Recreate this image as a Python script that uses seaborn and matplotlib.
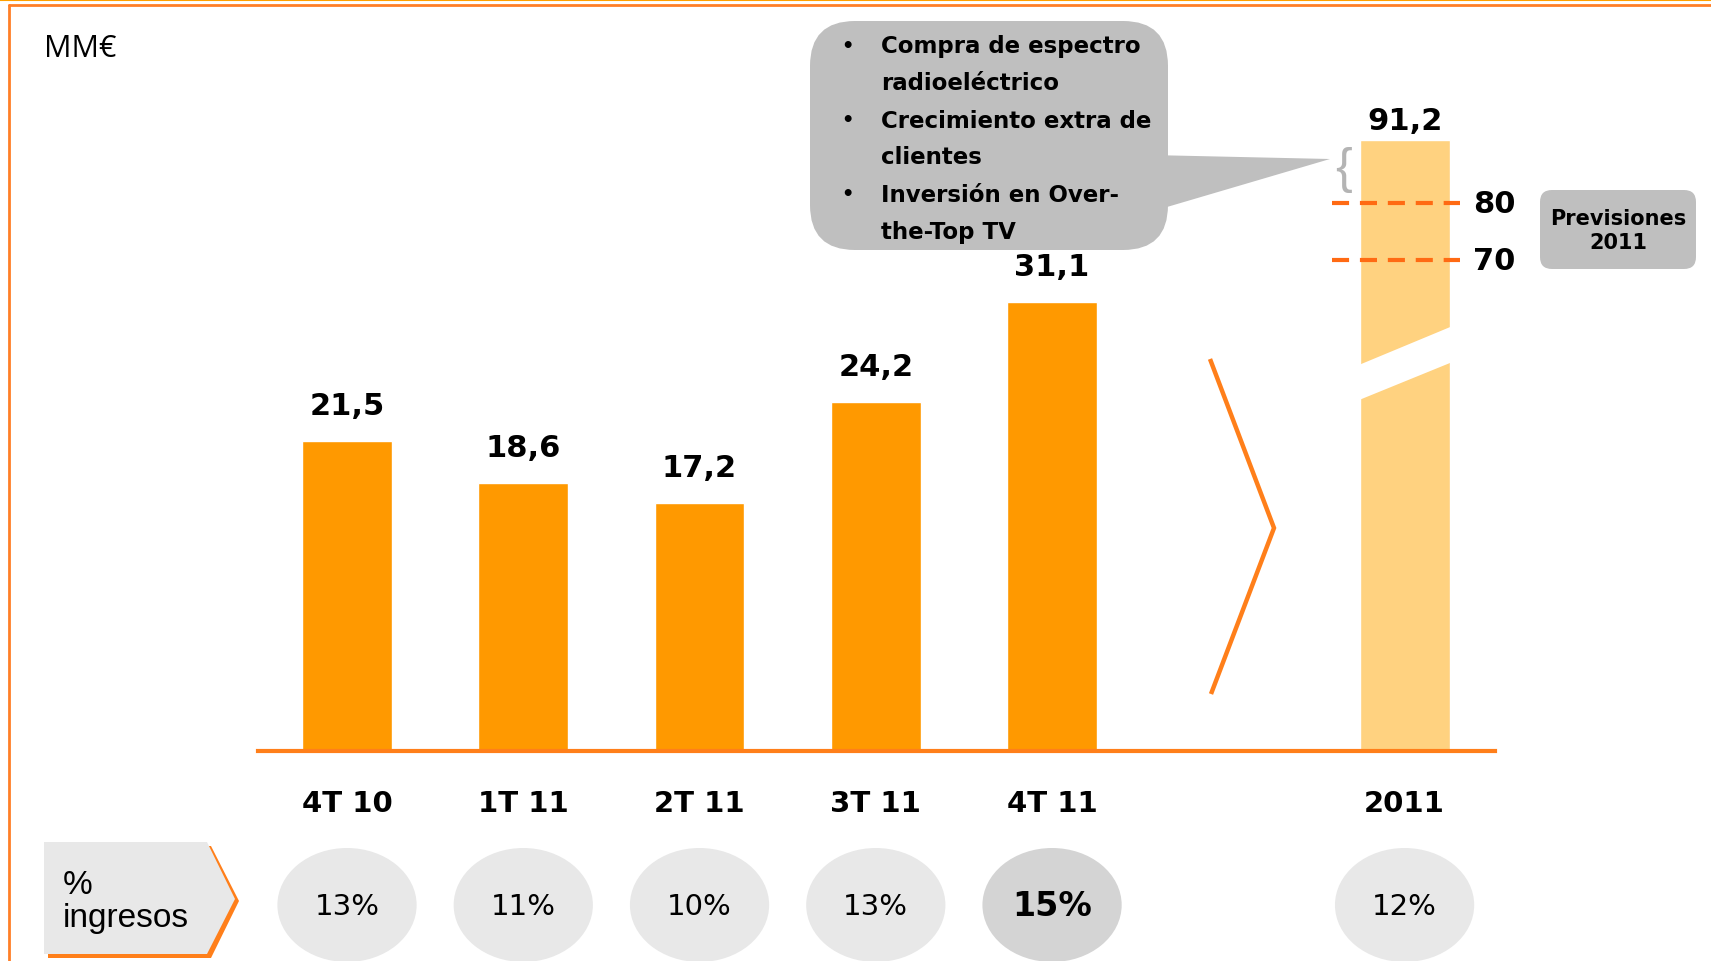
import numpy as np
import pandas as pd
import seaborn as sns
import matplotlib.pyplot as plt
from matplotlib.patches import Ellipse, Polygon, FancyBboxPatch
from matplotlib.transforms import blended_transform_factory

# data
quarters = ['4T 10', '1T 11', '2T 11', '3T 11', '4T 11']
capex = [21.5, 18.6, 17.2, 24.2, 31.1]
year_label = '2011'
year_capex = 91.2
guidance = [80, 70]
pct_labels = quarters + [year_label]
pct_ingresos = [13, 11, 10, 13, 15, 12]
highlight = '4T 11'
callout_lines = ['Compra de espectro', 'radioeléctrico', 'Crecimiento extra de',
                 'clientes', 'Inversión en Over-', 'the-Top TV']
bullet_rows = [0, 2, 4]

order = quarters + [' ', year_label]
df_q = pd.DataFrame({'periodo': quarters, 'capex': capex})
df_y = pd.DataFrame({'periodo': [year_label], 'capex': [year_capex]})


def fmt(v):
    return f'{v:.1f}'.replace('.', ',')


# piecewise scale for the broken 2011 bar
def fwd(v):
    v = np.asarray(v, dtype=float)
    return np.where(v <= 50, v * 7.53, 376.5 + (v - 50) * 5.7)


def inv(f):
    f = np.asarray(f, dtype=float)
    return np.where(f <= 376.5, f / 7.53, 50 + (f - 376.5) / 5.7)


W, H = 1711, 962
sns.set_style('white')
plt.rcParams['font.family'] = ['DejaVu Sans']
plt.rcParams['text.color'] = 'black'
plt.rcParams['xtick.color'] = 'black'

fig = plt.figure(figsize=(W / 100, H / 100), dpi=100)

bg = fig.add_axes([0, 0, 1, 1])
bg.set_xlim(0, W)
bg.set_ylim(H, 0)
bg.axis('off')

ax = fig.add_axes([258 / W, 1 - 752 / H, (1495 - 258) / W, (752 - 100) / H])
ax2 = ax.twinx()
for a in (ax, ax2):
    a.patch.set_visible(False)

sns.barplot(data=df_q, x='periodo', y='capex', order=order, color='#FF9900',
            saturation=1, width=0.51, ax=ax)
sns.barplot(data=df_y, x='periodo', y='capex', order=order, color='#FFD280',
            saturation=1, width=0.51, ax=ax2)

ax.set_xlim(-0.505, 6.513)
ax.set_ylim(0, 45.18)
ax2.set_yscale('function', functions=(fwd, inv))
ax2.set_ylim(0, 98.33)

ax.set(xlabel='', ylabel='')
ax2.set(xlabel='', ylabel='')
ax.set_yticks([])
ax2.yaxis.set_visible(False)
for s in ax.spines.values():
    s.set_visible(False)
for k, s in ax2.spines.items():
    s.set_visible(k == 'bottom')
ax2.spines['bottom'].set_color('#FF7F1A')
ax2.spines['bottom'].set_linewidth(3)

ax.set_xticks(range(len(order)))
ax.set_xticklabels(order, fontsize=21, fontweight='bold')
ax.tick_params(axis='x', length=0, pad=27, colors='black')

for q, v in zip(quarters, capex):
    ax.annotate(fmt(v), (order.index(q), v), xytext=(0, 15), textcoords='offset points',
                ha='center', va='bottom', fontsize=22, fontweight='bold')

xi = order.index(year_label)
ax2.annotate(fmt(year_capex), (xi, year_capex), xytext=(0, 3), textcoords='offset points',
             ha='center', va='bottom', fontsize=22, fontweight='bold')

# break in the 2011 bar
ax2.add_patch(Polygon([(xi - 0.28, 46.4), (xi + 0.28, 52.3), (xi + 0.28, 58.6), (xi - 0.28, 51.4)],
                      closed=True, facecolor='white', edgecolor='none', zorder=3))

ax2.hlines(guidance, xi - 0.41, xi + 0.315, colors='#FF6A13', lw=3,
           linestyles=[(0, (4.1, 2.6))], zorder=4)
for g in guidance:
    ax2.text(xi + 0.39, g, str(g), ha='left', va='center', fontsize=22, fontweight='bold')

# frame
bg.plot([0, W], [1, 1], color='#FFA000', lw=1.5, clip_on=False)
bg.plot([9, W], [6, 6], color='#FF7F27', lw=2, clip_on=False)
bg.plot([9, 9], [6, H], color='#FF7F27', lw=2, clip_on=False)

bg.text(44, 49, 'MM€', fontsize=22, family=['Open Sans', 'DejaVu Sans'], va='center', ha='left')

# callout
bg.add_patch(Polygon([(1150, 156), (1330, 160), (1150, 213)], closed=True,
                     facecolor='#BFBFBF', edgecolor='none'))
bg.add_patch(FancyBboxPatch((810, 22), 358, 229, boxstyle='round,pad=0,rounding_size=45',
                            facecolor='#BFBFBF', edgecolor='none'))
for i, line in enumerate(callout_lines):
    y = 47 + i * 37
    if i in bullet_rows:
        bg.text(847, y, '•', fontsize=14, fontweight='bold', va='center', ha='center')
    bg.text(881, y, line, fontsize=16.5, fontweight='bold', va='center', ha='left')

bg.text(1344, 170, '{', fontsize=36, family=['Liberation Sans', 'DejaVu Sans'],
        color='#B4B4B4', ha='center', va='center')

# guidance tag
bg.add_patch(FancyBboxPatch((1540, 191), 156, 79, boxstyle='round,pad=0,rounding_size=12',
                            facecolor='#BFBFBF', edgecolor='none'))
bg.text(1618, 231, 'Previsiones\n2011', fontsize=15, fontweight='bold', ha='center',
        va='center', linespacing=1.3)

# separator chevron
bg.plot([1210, 1274, 1211], [360, 529, 695], color='#FF7F1A', lw=3.2,
        solid_joinstyle='miter', solid_capstyle='butt')

# % ingresos row
bg.add_patch(Polygon([(48, 847), (211, 847), (239, 902), (211, 959), (48, 959)],
                     closed=True, facecolor='#FF7F1A', edgecolor='none'))
bg.add_patch(Polygon([(44, 843), (207, 843), (235, 900), (207, 955), (44, 955)],
                     closed=True, facecolor='#E8E8E8', edgecolor='none'))
bg.text(63, 902, '%\ningresos', fontsize=24, family=['Liberation Sans', 'DejaVu Sans'],
        ha='left', va='center', linespacing=1.05)

tr = blended_transform_factory(ax.transData, bg.transData)
for lab, p in zip(pct_labels, pct_ingresos):
    x = order.index(lab)
    hot = lab == highlight
    bg.add_patch(Ellipse((x, 906), 0.79, 114, transform=tr, clip_on=False,
                         facecolor='#D4D4D4' if hot else '#E8E8E8', edgecolor='none'))
    bg.text(x, 907, f'{p}%', transform=tr, ha='center', va='center',
            fontsize=24 if hot else 21, fontweight='bold' if hot else 'normal')

fig.savefig('out.png', dpi=100)
